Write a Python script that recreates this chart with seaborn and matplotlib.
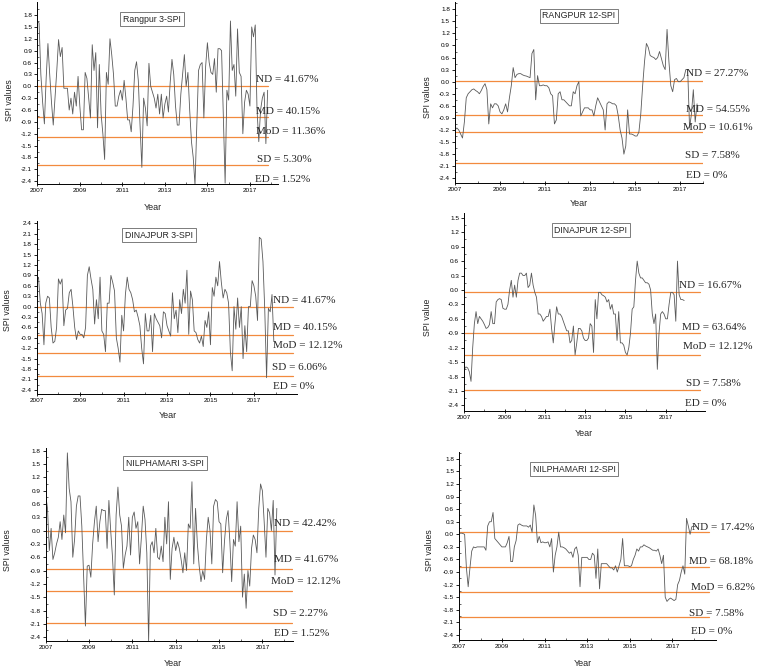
import numpy as np
import pandas as pd
import matplotlib
matplotlib.use("Agg")
import matplotlib.pyplot as plt
import seaborn as sns
from matplotlib.ticker import FixedLocator, FuncFormatter

# ---------------- data (monthly SPI values from Jan 2007) ----------------
rangpur3 = [1.65,1.6,0.3,-0.4,-0.95,0.2,1.08,0.3,-0.4,-0.98,-0.3,0.4,1.18,0.75,0.98,-0.05,-0.05,-0.05,-0.6,-0.3,
            -0.7,-0.15,-0.5,0.25,-0.5,-1.1,-1.1,0.35,0.2,-0.3,-0.8,1.05,0.4,0.85,-1.05,0.55,-0.7,-1.2,-1.85,0.35,
            0.05,1.2,0.8,0.3,-0.5,-0.5,-0.25,-0.1,-0.35,0.15,-0.3,-0.85,-0.85,-1.15,-0.5,0.4,0.62,0.15,-1.0,-2.05,
            -0.3,-0.55,-1.0,0.58,0.0,-0.15,-0.3,-0.55,-0.2,-0.7,-0.2,-0.8,-0.45,-0.25,-0.65,0.1,0.68,0.3,-0.5,-0.98,
            -0.98,-0.2,0.3,0.8,0.0,0.35,-0.6,-1.4,-1.8,-2.5,-1.0,0.4,0.55,0.6,-0.8,0.5,1.1,0.6,0.35,0.3,
            0.7,-0.15,0.95,0.95,0.9,-0.8,-2.45,-0.1,-0.35,1.65,0.4,0.55,-0.25,1.45,0.35,0.25,-1.2,-0.4,-0.1,-0.2,
            -0.5,1.5,1.25,1.55,-0.6,-1.4,-0.6,-0.3,-0.15,-1.45,-0.1]
rangpur12 = [-1.2,-1.15,-1.2,-1.3,-1.4,-1.0,-0.4,-0.3,-0.25,-0.2,-0.18,-0.22,-0.25,-0.3,-0.22,-0.12,-0.05,-0.2,-1.05,-0.55,
             -0.65,-0.55,-0.55,-0.6,-0.75,-0.8,-0.7,-0.55,-0.75,-0.4,-0.1,0.35,0.1,0.18,0.2,0.2,0.17,0.15,0.14,0.12,
             0.1,0.7,0.8,-0.45,0.15,-0.1,-0.1,-0.08,-0.1,-0.1,-0.15,-0.3,-0.35,-1.05,-0.95,-0.3,-0.25,-0.45,-0.45,-0.5,
             -0.55,-0.6,-0.6,-0.25,-0.3,-0.1,0.0,-0.85,-0.75,-0.65,-0.65,-0.65,-0.7,-0.7,-0.85,-0.6,-0.4,-0.5,-0.6,-0.7,
             -1.2,-0.55,-0.5,-0.52,-0.55,-0.55,-0.6,-0.85,-1.2,-1.4,-1.8,-1.6,-0.7,-1.3,-1.3,-1.32,-1.35,-1.35,-1.25,-0.8,
             -0.1,0.5,0.95,0.85,0.65,0.62,0.6,0.55,0.6,0.75,0.58,0.4,0.3,1.3,0.5,-0.1,-0.25,0.05,0.08,0.0,
             0.0,0.05,0.1,0.3,0.3,-1.15,-0.8,-0.2,-1.0,-0.55]
dinajpur3 = [0.75,0.85,0.1,-0.2,-1.1,0.1,0.3,0.25,-0.6,-1.05,-1.0,-0.6,0.8,0.65,0.8,-0.55,-0.1,-0.05,0.4,0.5,
             0.0,-0.6,-0.95,-0.7,-0.8,-0.8,-0.9,-0.6,0.9,1.15,0.8,0.5,-0.5,0.2,-0.35,0.85,-0.7,-0.8,-1.3,0.1,
             0.1,0.9,0.7,0.45,-0.9,-1.2,-1.6,-0.25,-0.7,0.35,0.85,0.5,0.4,0.2,-0.15,-0.1,-0.3,-0.55,-1.2,-1.65,
             -0.2,-0.7,-0.7,-0.25,-1.3,-0.2,-0.35,-0.45,-0.55,-0.9,-0.15,-0.2,-0.55,-0.7,-0.85,0.4,-0.35,-0.1,-0.75,0.2,
             -0.2,0.5,0.1,1.05,-0.8,0.45,0.2,-0.7,-0.75,-0.95,-1.05,-0.85,-1.15,-0.4,-0.6,-0.15,-1.1,0.55,0.3,0.85,
             0.6,1.3,0.7,0.25,0.5,0.4,0.1,-1.3,-1.85,0.0,-0.65,0.25,-0.6,0.0,-1.5,-0.55,-1.3,0.0,0.0,0.75,
             0.6,0.3,-0.4,2.0,1.95,1.3,-0.1,-2.05,-0.05,-0.15,0.35,-1.0]
dinajpur12 = [-1.65,-1.6,-1.62,-1.7,-1.9,-1.2,-0.7,-0.45,-0.7,-0.55,-0.6,-0.65,-0.72,-0.8,-0.78,-0.72,-0.45,-0.7,-0.7,-0.25,
              -0.2,-0.18,-0.2,-0.38,-0.4,-0.4,-0.3,0.0,0.2,-0.15,0.1,-0.15,0.2,0.35,0.35,0.3,0.3,0.35,0.05,0.1,
              0.35,0.1,-0.05,-0.15,-0.5,-0.5,-0.55,-0.65,-0.6,-0.55,-0.55,-0.4,-0.8,-1.1,-0.7,-0.35,-0.5,-0.5,-0.55,-0.65,
              -0.75,-0.85,-0.85,-1.1,-1.05,-0.75,-1.35,-1.1,-0.8,-0.8,-0.85,-1.0,-1.05,-1.05,-1.0,-0.7,-0.75,-1.3,-0.2,-0.6,
              -0.05,-0.05,-0.1,-0.12,-0.15,-0.25,-0.2,-0.4,-0.3,-0.5,-0.5,-1.05,-0.45,-1.1,-1.1,-1.15,-1.3,-1.35,-1.2,-0.9,
              -0.4,-0.35,0.2,0.6,0.35,0.25,0.25,0.2,0.15,0.15,0.12,0.0,-0.5,-0.7,-0.5,-1.65,-0.9,-0.5,-0.45,-0.5,
              -0.6,-0.6,-0.3,-0.05,-0.05,-0.1,-0.65,0.6,-0.1,-0.2,-0.2,-0.22]
nilphamari3 = [0.8,0.5,-0.45,0.05,-0.65,-0.5,-0.3,-0.15,0.2,-0.2,0.35,-0.05,1.75,0.95,0.65,-0.6,-0.2,0.55,0.78,0.78,
               0.1,-1.0,-2.15,-0.8,-0.78,-1.05,-0.3,0.2,0.55,-0.25,0.2,0.48,0.45,0.45,-0.4,0.68,0.0,-0.6,-1.45,0.35,
               0.98,0.35,0.1,-0.85,-0.55,-0.35,0.3,-0.55,0.3,0.42,0.05,0.2,-0.75,-0.15,0.55,0.25,-0.5,-2.5,-0.35,-0.25,
               -0.5,0.05,-0.6,-0.65,-0.35,-0.7,0.3,-0.3,0.65,-1.1,-0.4,-0.15,-0.45,-0.25,-0.4,-0.65,-0.95,-0.5,-0.9,0.15,
               0.05,1.1,-0.75,0.5,-0.3,-0.8,-1.15,-0.9,-1.1,-0.2,0.3,0.0,-0.75,0.55,0.7,0.65,0.2,0.15,-0.95,-0.25,
               0.25,0.45,-0.25,-1.15,-0.2,-0.35,0.65,-0.25,0.1,-1.5,-0.98,-1.75,-0.9,-1.25,-0.4,-0.1,-0.2,-0.5,0.5,1.05,
               0.9,0.2,-0.6,0.5,0.4,0.0,0.68,-1.0,0.5]
nilphamari12 = [0.02,0.03,0.02,0.0,-0.8,-1.25,-0.8,-0.4,-0.3,-0.32,-0.3,-0.3,-0.3,-0.3,-0.3,-0.38,0.2,0.3,0.3,0.52,
                -0.1,-0.15,-0.2,-0.25,-0.3,-0.3,-0.3,-0.2,-0.05,-0.65,-0.65,-0.3,-0.15,0.22,0.25,0.22,0.2,0.2,0.2,0.17,
                0.22,0.05,0.7,0.45,-0.2,-0.05,-0.2,-0.18,-0.2,-0.2,-0.18,-0.3,-0.1,-0.9,-0.5,-0.3,0.05,-0.3,-0.3,-0.32,
                -0.35,-0.4,-0.45,-0.42,-0.55,-0.35,-0.3,-0.5,-1.25,-0.55,-0.55,-0.55,-0.55,-0.6,-0.6,-0.45,-0.5,-1.05,-0.35,-1.3,
                -0.7,-0.7,-0.7,-0.7,-0.75,-0.8,-0.8,-0.85,-0.75,-0.9,-0.75,-0.6,-0.1,-0.75,-0.75,-0.75,-0.77,-0.75,-0.6,-0.5,
                -0.35,-0.4,-0.3,-0.3,-0.25,-0.28,-0.3,-0.32,-0.35,-0.38,-0.38,-0.4,-0.35,-0.5,-0.7,-0.5,-1.5,-1.6,-1.55,-1.52,
                -1.55,-1.58,-1.55,-1.2,-1.1,-0.9,-0.75,-0.95,0.38,0.2,0.0,0.18,0.2,0.18]

titles = ["Rangpur 3-SPI", "RANGPUR 12-SPI", "DINAJPUR 3-SPI",
          "DINAJPUR 12-SPI", "NILPHAMARI 3-SPI", "NILPHAMARI 12-SPI"]
ylabels = ["SPI values", "SPI values", "SPI values", "SPI value", "SPI values", "SPI values"]
series = [rangpur3, rangpur12, dinajpur3, dinajpur12, nilphamari3, nilphamari12]
ytick_top = [1.8, 1.8, 2.4, 1.5, 1.8, 1.8]

# threshold lines (drought class boundaries as drawn)
levels_rangpur3 = [0.0, -0.77, -1.27, -2.0]
levels_rangpur12 = [0.02, -0.82, -1.26, -2.02]
levels_dinajpur3 = [0.0, -0.83, -1.33, -2.0]
levels_dinajpur12 = [-0.05, -0.89, -1.35, -2.09]
levels_nilphamari3 = [0.0, -0.855, -1.35, -2.08]
levels_nilphamari12 = [0.05, -0.78, -1.37, -1.98]
levels = [levels_rangpur3, levels_rangpur12, levels_dinajpur3,
          levels_dinajpur12, levels_nilphamari3, levels_nilphamari12]

classes = ["ND", "MD", "MoD", "SD", "ED"]
pct_rangpur3 = ["41.67%", "40.15%", "11.36%", "5.30%", "1.52%"]
pct_rangpur12 = ["27.27%", "54.55%", "10.61%", "7.58%", "0%"]
pct_dinajpur3 = ["41.67%", "40.15%", "12.12%", "6.06%", "0%"]
pct_dinajpur12 = ["16.67%", "63.64%", "12.12%", "7.58%", "0%"]
pct_nilphamari3 = ["42.42%", "41.67%", "12.12%", "2.27%", "1.52%"]
pct_nilphamari12 = ["17.42%", "68.18%", "6.82%", "7.58%", "0%"]
pcts = [pct_rangpur3, pct_rangpur12, pct_dinajpur3, pct_dinajpur12, pct_nilphamari3, pct_nilphamari12]

# ---------------- layout (pixels) ----------------
W, H = 758, 671
layout = [
    dict(box=(37.3, 278, 2, 184), xmax=2018.32, ylim=(-2.47, 2.13), lend=2017.85,
         ann=[(256, 80), (256, 111), (256, 131), (257, 160), (255, 179)],
         title=(152, 19), ylab=(10, 100), xlab=(153, 207)),
    dict(box=(455, 702.7, 2, 182.7), xmax=2018.0, ylim=(-2.51, 1.98), lend=2018.0,
         ann=[(686, 73), (686, 109), (683, 127), (685, 155), (686, 175)],
         title=(579, 16), ylab=(428, 97), xlab=(579, 204)),
    dict(box=(36.7, 296.7, 221, 394), xmax=2018.97, ylim=(-2.52, 2.47), lend=2018.8,
         ann=[(273, 300), (273, 328), (273, 346), (272, 368), (273, 386)],
         title=(159, 235), ylab=(8, 310), xlab=(168, 416)),
    dict(box=(464.3, 705, 213, 410.7), xmax=2018.95, ylim=(-2.51, 1.6), lend=2018.7,
         ann=[(679, 286), (682, 327), (683, 347), (686, 384), (685, 403)],
         title=(591, 230), ylab=(428, 317), xlab=(584, 434)),
    dict(box=(45.7, 292.7, 448, 640.7), xmax=2018.4, ylim=(-2.48, 1.86), lend=2018.35,
         ann=[(274, 524), (274, 559), (271, 582), (273, 613), (274, 633)],
         title=(165, 463), ylab=(7, 550), xlab=(173, 664)),
    dict(box=(459.3, 716, 451.7, 640), xmax=2019.05, ylim=(-2.52, 1.97), lend=2018.7,
         ann=[(692, 527), (689, 561), (691, 587), (689, 613), (691, 632)],
         title=(574, 469), ylab=(430, 550), xlab=(583, 663)),
]

sns.set_theme(style="ticks")
plt.rcParams['font.family'] = ['Liberation Sans', 'DejaVu Sans']
plt.rcParams['axes.linewidth'] = 0.7

ORANGE = '#F28A3E'
LINE = '#5a5a5a'

fig = plt.figure(figsize=(W / 100, H / 100), dpi=100)
fig.patch.set_facecolor('white')


def fx(x):
    return x / W


def fy(y):
    return 1 - y / H


fmt = FuncFormatter(lambda v, p: ("%.1f" % v).replace("-0.0", "0.0"))

for k in range(6):
    L = layout[k]
    l, r, t, b = L['box']
    ax = fig.add_axes([fx(l), fy(b), (r - l) / W, (b - t) / H])
    ax.set_facecolor('none')
    vals = series[k]
    df = pd.DataFrame({"year": 2007 + np.arange(len(vals)) / 12.0, "spi": vals})
    sns.lineplot(data=df, x="year", y="spi", ax=ax, color=LINE, lw=0.6)
    for lv in levels[k]:
        ax.plot([2007, L['lend']], [lv, lv], color=ORANGE, lw=0.9, zorder=1)
    ax.set_xlim(2007, L['xmax'])
    ax.set_ylim(*L['ylim'])
    yt = np.round(np.arange(-2.4, ytick_top[k] + 1e-6, 0.3), 2)
    ax.yaxis.set_major_locator(FixedLocator(yt))
    ax.yaxis.set_minor_locator(FixedLocator(np.round(yt + 0.15, 2)))
    ax.yaxis.set_major_formatter(fmt)
    ax.xaxis.set_major_locator(FixedLocator([2007, 2009, 2011, 2013, 2015, 2017]))
    ax.xaxis.set_minor_locator(FixedLocator([2008, 2010, 2012, 2014, 2016, 2018]))
    ax.tick_params(axis='both', which='major', labelsize=4.6, length=2.5, width=0.6,
                   pad=1.2, colors='black')
    ax.tick_params(axis='x', which='major', direction='inout', length=3.5)
    ax.tick_params(axis='y', which='major', direction='out')
    ax.tick_params(axis='both', which='minor', direction='in', length=1.5, width=0.5)
    for s in ['top', 'right']:
        ax.spines[s].set_visible(False)
    for s in ['left', 'bottom']:
        ax.spines[s].set_color('black')
    ax.set_xlabel("")
    ax.set_ylabel("")
    tx, ty = L['title']
    fig.text(fx(tx), fy(ty), titles[k], ha='center', va='center', fontsize=6.3,
             bbox=dict(boxstyle='square,pad=0.3', fc='white', ec='#666666', lw=0.6))
    yx, yy = L['ylab']
    fig.text(fx(yx), fy(yy), ylabels[k], ha='center', va='center', rotation=90, fontsize=6.3)
    xx, xy = L['xlab']
    fig.text(fx(xx), fy(xy), "Year", ha='center', va='center', fontsize=6.5)
    for (axp, ayp), c, p in zip(L['ann'], classes, pcts[k]):
        fig.text(fx(axp), fy(ayp), f"{c} = {p}", ha='left', va='center',
                 fontsize=8, family=['Liberation Serif', 'DejaVu Serif'])

fig.savefig("out.png", dpi=100, facecolor='white')
